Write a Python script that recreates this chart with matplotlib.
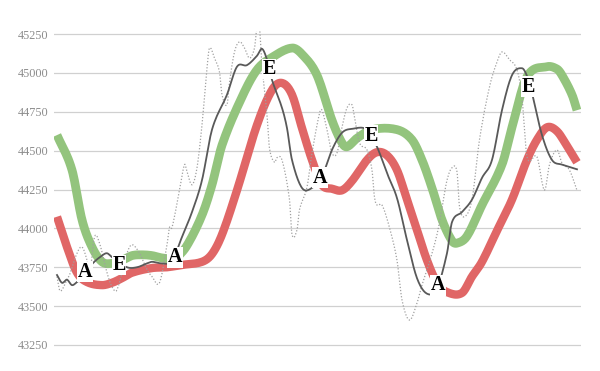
import numpy as np
import matplotlib
matplotlib.use("Agg")
import matplotlib.pyplot as plt

# day index -> price
green_days = [0, 3, 5, 7, 9, 11, 13, 15, 17, 19, 21, 23, 24, 26, 29, 31, 33, 37, 40, 43, 47, 49,
              52, 55, 57, 58, 60, 63, 68, 71, 73, 75, 77, 79, 80, 82, 85, 89, 91, 94, 98, 100,
              101, 103, 104]
green_vals = [44600, 44375, 44055, 43880, 43785, 43775, 43795, 43825, 43830, 43825, 43810, 43805,
              43815, 43890, 44085, 44280, 44535, 44845, 45020, 45100, 45160, 45120, 44985, 44695,
              44550, 44525, 44580, 44635, 44635, 44570, 44440, 44260, 44055, 43920, 43905, 43950,
              44150, 44410, 44650, 44975, 45040, 45025, 44985, 44860, 44760]

red_days = [0, 2, 4, 6, 9, 11, 13, 15, 19, 22, 25, 29, 31, 33, 36, 40, 43, 45, 47, 49, 51, 53,
            55, 57, 59, 62, 64, 66, 68, 70, 72, 74, 76, 78, 81, 83, 85, 88, 91, 94, 96, 98, 100,
            102, 104]
red_vals = [44075, 43880, 43715, 43655, 43635, 43650, 43680, 43715, 43745, 43750, 43765, 43785,
            43835, 43960, 44245, 44665, 44890, 44935, 44860, 44645, 44440, 44280, 44255, 44245,
            44305, 44440, 44490, 44470, 44375, 44185, 43990, 43795, 43650, 43590, 43585, 43690,
            43785, 43985, 44185, 44440, 44570, 44650, 44625, 44530, 44425]

price_days = [0, 1, 2, 3, 4, 5, 7, 9, 10, 11, 14, 16, 18, 19, 21, 23, 25, 27, 29, 31, 34, 36,
              38, 40, 41, 42, 43, 45, 46, 47, 49, 51, 53, 55, 57, 59, 62, 64, 66, 68, 70, 72,
              74, 76, 78, 79, 81, 83, 85, 87, 89, 91, 93, 94, 95, 97, 99, 101, 103, 104]
price_vals = [43700, 43650, 43670, 43635, 43655, 43680, 43770, 43825, 43840, 43815, 43750, 43750,
              43775, 43785, 43775, 43790, 43945, 44105, 44310, 44635, 44860, 45040, 45050, 45110,
              45155, 45085, 44955, 44775, 44645, 44440, 44260, 44260, 44335, 44505, 44615, 44640,
              44635, 44525, 44355, 44195, 43925, 43680, 43580, 43615, 43840, 44040, 44105, 44185,
              44325, 44440, 44760, 44985, 45030, 44980, 44870, 44600, 44440, 44410, 44390, 44380]

raw_days = [0, 0.5, 1, 2, 2.5, 4, 5, 6, 6.5, 7.5, 8.5, 10, 11, 12, 14, 15, 16.5, 18, 19, 20.5,
            22, 22.5, 23, 24.5, 25.5, 26, 27, 28, 29, 30, 30.5, 31.5, 32.5, 33, 34, 34.5, 35.5,
            36.5, 37.5, 38.5, 39.5, 40, 40.5, 41, 42, 42.5, 43.5, 44, 45, 46.5, 47, 48, 48.5,
            50, 51, 52.5, 53, 54, 55, 56, 57, 58, 59, 59.5, 60.5, 62, 63, 63.5, 64, 65, 66.5,
            68, 69, 70.5, 72, 73, 74.5, 76, 77, 78, 79, 80, 80.5, 81.5, 83, 84.5, 86.5, 88, 89,
            90.5, 92, 93, 94, 96, 97.5, 98.5, 100, 101, 102.5, 104]
raw_vals = [43690, 43605, 43605, 43670, 43700, 43840, 43880, 43795, 43700, 43945, 43905, 43715,
            43625, 43605, 43840, 43895, 43840, 43735, 43690, 43650, 43895, 44005, 44005, 44245,
            44410, 44365, 44280, 44390, 44665, 45030, 45160, 45095, 45005, 44860, 44795, 44940,
            45135, 45200, 45160, 45095, 45160, 45295, 45290, 45050, 44730, 44515, 44425, 44455,
            44440, 44185, 43960, 43990, 44120, 44265, 44485, 44740, 44760, 44635, 44485, 44485,
            44650, 44775, 44795, 44715, 44550, 44505, 44375, 44200, 44150, 44150, 44005, 43795,
            43540, 43410, 43520, 43635, 43785, 43960, 44130, 44310, 44390, 44365, 44140, 44075,
            44185, 44570, 44910, 45070, 45135, 45085, 45020, 44840, 44460, 44460, 44245, 44410,
            44505, 44420, 44375, 44245]

label_text = ["A", "E", "A", "E", "A", "E", "A", "E"]
label_days = [5.6, 12.4, 23.6, 42.4, 52.6, 62.8, 76.2, 94.2]
label_vals = [43720, 43765, 43815, 45025, 44325, 44595, 43635, 44910]

y_ticks = [43250, 43500, 43750, 44000, 44250, 44500, 44750, 45000, 45250]


def smooth(xs, ys, n=12):
    # cubic hermite with catmull-rom tangents, like a "smoothed line" option
    xs = np.asarray(xs, float)
    ys = np.asarray(ys, float)
    m = np.zeros_like(ys)
    m[1:-1] = (ys[2:] - ys[:-2]) / (xs[2:] - xs[:-2])
    m[0] = (ys[1] - ys[0]) / (xs[1] - xs[0])
    m[-1] = (ys[-1] - ys[-2]) / (xs[-1] - xs[-2])
    out_x, out_y = [], []
    for i in range(len(xs) - 1):
        h = xs[i + 1] - xs[i]
        t = np.linspace(0, 1, n, endpoint=False)
        h00 = 2 * t**3 - 3 * t**2 + 1
        h10 = t**3 - 2 * t**2 + t
        h01 = -2 * t**3 + 3 * t**2
        h11 = t**3 - t**2
        out_x.extend(xs[i] + t * h)
        out_y.extend(h00 * ys[i] + h10 * h * m[i] + h01 * ys[i + 1] + h11 * h * m[i + 1])
    out_x.append(xs[-1])
    out_y.append(ys[-1])
    return np.array(out_x), np.array(out_y)


fig = plt.figure(figsize=(6, 3.71), dpi=100)
ax = fig.add_axes([0.09, 0.0617, 0.8783, 0.855])

ax.plot(*smooth(red_days, red_vals), color="#e06666", lw=6.0, solid_capstyle="butt", zorder=2)
ax.plot(*smooth(green_days, green_vals), color="#93c47d", lw=6.3, solid_capstyle="butt", zorder=3)
ax.plot(*smooth(raw_days, raw_vals, n=6), color="#a0a0a0", lw=0.9, ls=(0, (1, 1.5)), zorder=4)
ax.plot(*smooth(price_days, price_vals), color="#595959", lw=1.3, zorder=5)

for txt, d, v in zip(label_text, label_days, label_vals):
    ax.text(d, v, txt, ha="center", va="center", fontsize=14.5, fontweight="bold",
            family="Liberation Serif", color="black", zorder=6,
            bbox=dict(facecolor="white", edgecolor="none", pad=0.3))

ax.set_xlim(-0.6, 104.8)
ax.set_ylim(43230, 45270)
ax.set_yticks(y_ticks)
ax.set_yticklabels([str(t) for t in y_ticks], family="Liberation Serif", fontsize=8.8, color="#8c8c8c")
ax.set_xticks([])
ax.tick_params(axis="y", length=0, pad=4)
ax.grid(axis="y", color="#d0d0d0", lw=0.9, zorder=0)
ax.set_axisbelow(True)
for s in ax.spines.values():
    s.set_visible(False)

fig.savefig("out.png", dpi=100)
